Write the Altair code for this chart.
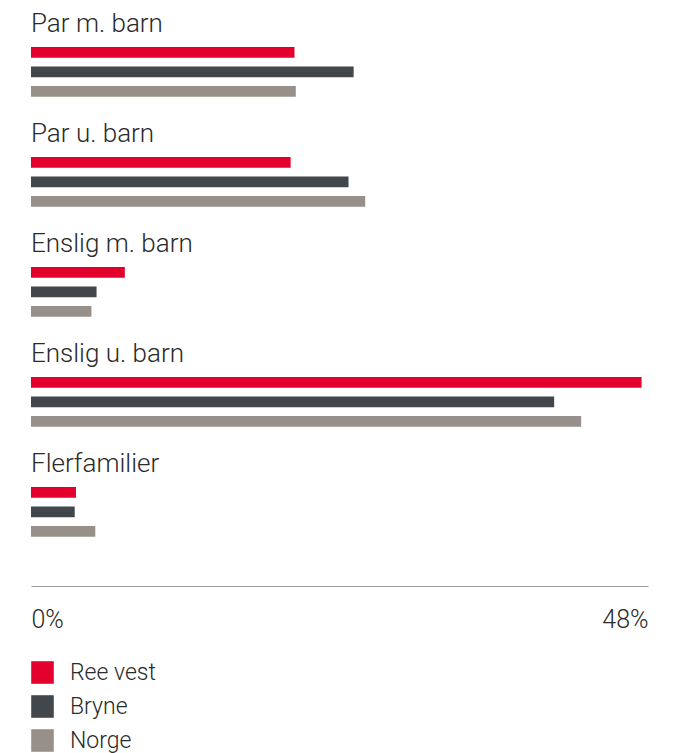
import altair as alt
import pandas as pd

categories = ["Par m. barn", "Par u. barn", "Enslig m. barn", "Enslig u. barn", "Flerfamilier"]
series = ["Ree vest", "Bryne", "Norge"]
ree_vest = [20.5, 20.2, 7.3, 47.5, 3.5]
bryne = [25.1, 24.7, 5.1, 40.7, 3.4]
norge = [20.6, 26.0, 4.7, 42.8, 5.0]
colors = ["#E3002D", "#41474B", "#978F89"]
x_ticks = [0, 48]

rows = []
for i, c in enumerate(categories):
    for s, vals in zip(series, [ree_vest, bryne, norge]):
        rows.append({"category": c, "series": s, "value": vals[i]})
df = pd.DataFrame(rows)
labels_df = pd.DataFrame({"category": categories})

FONT = "Roboto Light, Roboto"
TXT = "#2A2A2A"

# two empty slots above the bars leave room for each group's label
offset_domain = ["_label1", "_label2"] + series

y_enc = alt.Y("category:N", sort=categories, axis=None,
              scale=alt.Scale(domain=categories, paddingInner=0, paddingOuter=0))

bars = alt.Chart(df).mark_bar().encode(
    x=alt.X(
        "value:Q",
        scale=alt.Scale(domain=[0, 48], nice=False),
        axis=alt.Axis(
            values=x_ticks, labelExpr="datum.value + '%'", title=None,
            ticks=False, grid=False, labelFlush=True, domainColor="#A0A0A0",
            labelFontSize=25, labelPadding=21, offset=28, labelColor=TXT,
            labelFont=FONT, labelFontWeight=300,
        ),
    ),
    y=y_enc,
    yOffset=alt.YOffset("series:N",
                        scale=alt.Scale(domain=offset_domain, paddingInner=0.45,
                                        paddingOuter=0.545, align=0)),
    color=alt.Color(
        "series:N", sort=series,
        scale=alt.Scale(domain=series, range=colors),
        legend=alt.Legend(
            orient="bottom", direction="vertical", title=None,
            symbolType="square", symbolSize=510, symbolStrokeWidth=0,
            labelFontSize=23, labelFont=FONT, labelFontWeight=300,
            labelColor=TXT, rowPadding=10, labelOffset=16, offset=29,
        ),
    ),
)

text = alt.Chart(labels_df).mark_text(
    align="left", baseline="top", fontSize=26, font=FONT, fontWeight=300,
    color=TXT, dy=3,
).encode(
    x=alt.datum(0),
    y=alt.Y("category:N", sort=categories, bandPosition=0),
    text="category:N",
)

chart = alt.layer(bars, text).properties(
    width=617, height=550,
    padding={"left": 23, "top": 0, "right": 5, "bottom": 5},
).configure_view(stroke=None)

chart.save("out.html", embed_options={"renderer": "svg", "actions": False})
